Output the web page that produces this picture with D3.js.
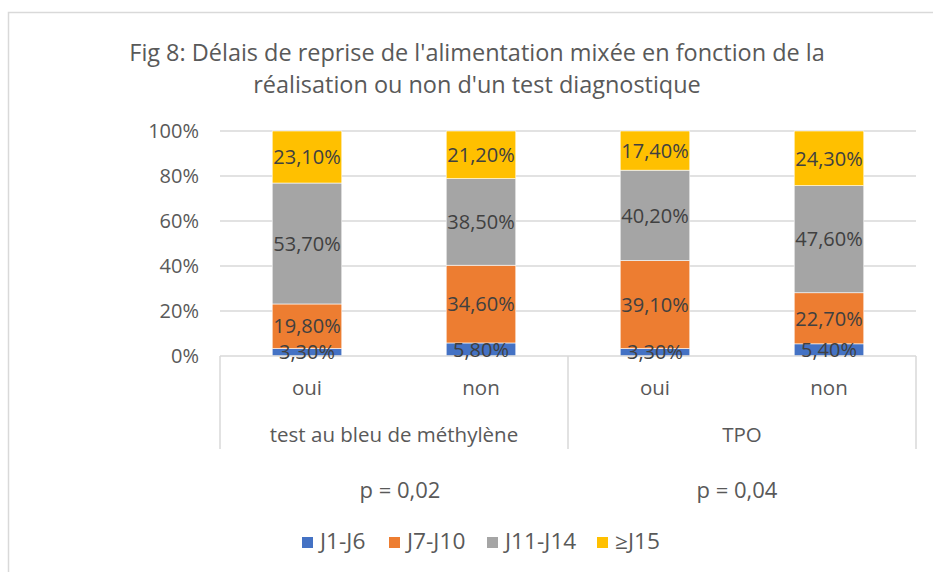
<!DOCTYPE html>
<html>
<head>
<meta charset="utf-8">
<script src="https://cdn.jsdelivr.net/npm/d3@7"></script>
<style>
  body { margin: 0; background: #fff; }
  text { font-family: "Open Sans", sans-serif; }
</style>
</head>
<body>
<div id="chart"></div>
<script>
// data
var series = ["J1-J6", "J7-J10", "J11-J14", "≥J15"];
var colors = ["#4472C4", "#ED7D31", "#A5A5A5", "#FFC000"];
var categories = ["oui", "non", "oui", "non"];
var groups = ["test au bleu de méthylène", "TPO"];
var pValues = ["p = 0,02", "p = 0,04"];
var j1j6 = [3.3, 5.8, 3.3, 5.4];
var j7j10 = [19.8, 34.6, 39.1, 22.7];
var j11j14 = [53.7, 38.5, 40.2, 47.6];
var j15 = [23.1, 21.2, 17.4, 24.3];
var yTicks = [0, 0.2, 0.4, 0.6, 0.8, 1];
var titleLines = ["Fig 8: Délais de reprise de l'alimentation mixée en fonction de la",
                  "réalisation ou non d'un test diagnostique"];

(function() {
  var W = 933, H = 572;
  var svg = d3.select("#chart").append("svg").attr("width", W).attr("height", H);

  // chart border (right/bottom fall outside the picture)
  svg.append("rect").attr("x", 8.5).attr("y", 12.5).attr("width", 960).attr("height", 600)
    .attr("fill", "#fff").attr("stroke", "#d9d9d9").attr("stroke-width", 1.5);

  var pLeft = 220, pRight = 916, pTop = 131, pBottom = 356;

  var x = d3.scaleBand().domain(d3.range(categories.length)).range([pLeft, pRight])
    .paddingInner(0.6).paddingOuter(0.3);
  var y = d3.scaleLinear().domain([0, 1]).range([pBottom, pTop]);

  // title
  svg.selectAll(".title").data(titleLines).enter().append("text")
    .attr("transform", function(d, i) { return "translate(477," + (61 + i * 32) + ") scale(1.02,1)"; })
    .attr("text-anchor", "middle").attr("font-size", 23).attr("fill", "#595959")
    .text(function(d) { return d; });

  // gridlines
  svg.append("g").selectAll("line").data(yTicks.slice(1)).enter().append("line")
    .attr("x1", pLeft).attr("x2", pRight)
    .attr("y1", function(d) { return y(d); }).attr("y2", function(d) { return y(d); })
    .attr("stroke", "#d9d9d9").attr("stroke-width", 1.5);

  // y axis labels
  var yAxis = d3.axisLeft(y).tickValues(yTicks).tickFormat(d3.format(".0%")).tickSize(0).tickPadding(21);
  var ya = svg.append("g").attr("transform", "translate(" + pLeft + ",0)").call(yAxis);
  ya.select(".domain").remove();
  ya.selectAll("text").attr("font-size", 20).attr("fill", "#595959").attr("font-family", "Open Sans");

  // stacked data (100% stacked)
  var rows = categories.map(function(c, i) {
    var vals = [j1j6[i], j7j10[i], j11j14[i], j15[i]];
    var tot = d3.sum(vals);
    var o = { i: i };
    series.forEach(function(s, k) { o[s] = vals[k] / tot; o[s + "_raw"] = vals[k]; });
    return o;
  });
  var stacked = d3.stack().keys(series)(rows);

  var fmt = function(v) { return v.toFixed(2).replace(".", ",") + "%"; };

  stacked.forEach(function(layer, k) {
    svg.append("g").selectAll("rect").data(layer).enter().append("rect")
      .attr("x", function(d) { return x(d.data.i); })
      .attr("width", x.bandwidth())
      .attr("y", function(d) { return y(d[1]); })
      .attr("height", function(d) { return y(d[0]) - y(d[1]); })
      .attr("fill", colors[k]).attr("stroke", "#fff").attr("stroke-width", 0.6);
  });

  // category axis (two levels)
  var ax = svg.append("g").attr("stroke", "#d9d9d9").attr("stroke-width", 1.5);
  ax.append("line").attr("x1", pLeft).attr("x2", pRight).attr("y1", pBottom).attr("y2", pBottom);
  [pLeft, (pLeft + pRight) / 2, pRight].forEach(function(v) {
    ax.append("line").attr("x1", v).attr("x2", v).attr("y1", pBottom).attr("y2", 449);
  });

  // data labels
  stacked.forEach(function(layer, k) {
    svg.append("g").selectAll("text").data(layer).enter().append("text")
      .attr("x", function(d) { return x(d.data.i) + x.bandwidth() / 2; })
      .attr("y", function(d) { return (y(d[0]) + y(d[1])) / 2; })
      .attr("dy", "0.36em").attr("text-anchor", "middle")
      .attr("font-size", 20).attr("fill", "#404040")
      .text(function(d) { return fmt(d.data[series[k] + "_raw"]); });
  });

  svg.append("g").selectAll("text").data(categories).enter().append("text")
    .attr("x", function(d, i) { return x(i) + x.bandwidth() / 2; })
    .attr("y", 395).attr("text-anchor", "middle").attr("font-size", 20.5).attr("fill", "#595959")
    .text(function(d) { return d; });

  var half = (pRight - pLeft) / 2;
  svg.append("g").selectAll("text").data(groups).enter().append("text")
    .attr("x", function(d, i) { return pLeft + half * i + half / 2; })
    .attr("y", 442).attr("text-anchor", "middle").attr("font-size", 20.5).attr("fill", "#595959")
    .text(function(d) { return d; });

  // p values
  svg.append("g").selectAll("text").data(pValues).enter().append("text")
    .attr("x", function(d, i) { return [400, 737][i]; })
    .attr("y", 498).attr("text-anchor", "middle").attr("font-size", 22).attr("fill", "#595959")
    .text(function(d) { return d; });

  // legend
  var legX = [302, 389, 487, 597];
  var leg = svg.append("g").selectAll("g").data(series).enter().append("g")
    .attr("transform", function(d, i) { return "translate(" + legX[i] + ",537)"; });
  leg.append("rect").attr("width", 11).attr("height", 11)
    .attr("fill", function(d, i) { return colors[i]; });
  leg.append("text").attr("transform", "translate(18,12) scale(1.08,1)")
    .attr("font-size", 21).attr("fill", "#595959")
    .text(function(d) { return d; });
})();
</script>
</body>
</html>
